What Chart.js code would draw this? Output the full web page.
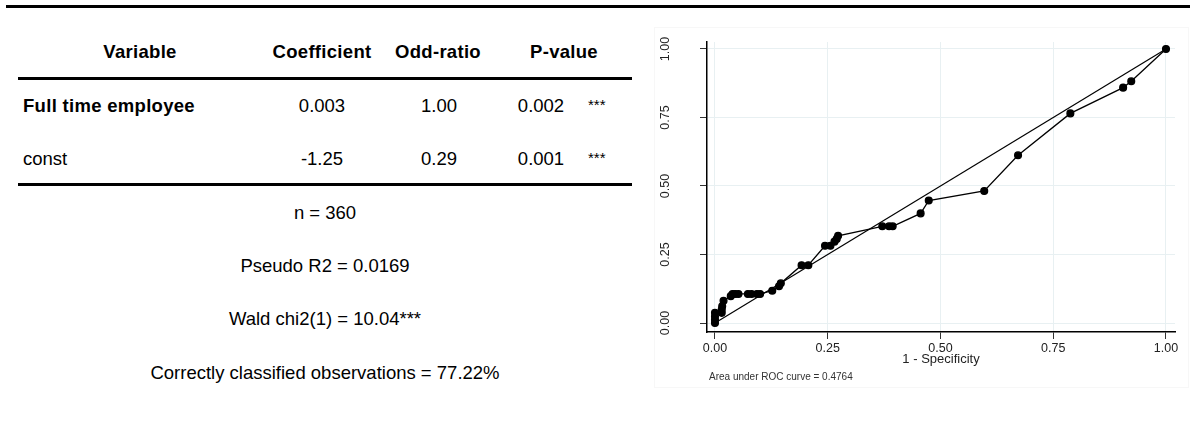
<!DOCTYPE html>
<html>
<head>
<meta charset="utf-8">
<script src="https://cdn.jsdelivr.net/npm/chart.js@4.4.1/dist/chart.umd.min.js"></script>
<style>
body{margin:0;background:#fff;width:1190px;height:431px;position:relative;overflow:hidden;font-family:"Liberation Sans",Arial,sans-serif;color:#000}
.c{position:absolute;white-space:nowrap;line-height:1;transform:translate(-50%,-50%)}
.l{position:absolute;white-space:nowrap;line-height:1;transform:translateY(-50%)}
.b{font-weight:bold;letter-spacing:0.3px}
.rule{position:absolute;background:#000}
#frame{position:absolute;left:654px;top:27px;width:535px;height:361px;border:1px solid #f7f7f7;box-sizing:border-box}
#wrap{position:absolute;left:640px;top:0;width:550px;height:431px}
#note{position:absolute;left:709px;top:377px;transform:translateY(-50%);font-size:10px;line-height:1;color:#333;white-space:nowrap}
</style>
</head>
<body>
<div class="rule" style="left:6px;top:5px;width:1184px;height:3px"></div>
<div class="rule" style="left:18px;top:77px;width:614px;height:3px"></div>
<div class="rule" style="left:18px;top:183px;width:614px;height:3px"></div>
<div id="frame"></div>
<div id="table"></div>
<div id="wrap"><canvas id="roc" width="550" height="431"></canvas></div>
<div id="note">Area under ROC curve = 0.4764</div>
<script>
// table text
const headers = ['Variable', 'Coefficient', 'Odd-ratio', 'P-value'];
const variables = ['Full time employee', 'const'];
const coefs = ['0.003', '-1.25'];
const oddRatios = ['1.00', '0.29'];
const pValues = ['0.002', '0.001'];
const stars = ['***', '***'];
const stats = ['n = 360', 'Pseudo R2 = 0.0169', 'Wald chi2(1) = 10.04***', 'Correctly classified observations = 77.22%'];

// ROC curve points (1 - specificity, sensitivity)
const fpr = [0, 0, 0, 0, 0.015, 0.015, 0.016, 0.019, 0.035, 0.039, 0.045, 0.052, 0.073, 0.081, 0.093, 0.1,
  0.127, 0.142, 0.146, 0.192, 0.207, 0.244, 0.256, 0.265, 0.27, 0.273, 0.371, 0.386, 0.394, 0.456, 0.474,
  0.597, 0.672, 0.788, 0.905, 0.923, 1];
const tpr = [0, 0.012, 0.024, 0.037, 0.037, 0.049, 0.061, 0.081, 0.098, 0.106, 0.106, 0.106, 0.106, 0.106, 0.106, 0.106,
  0.118, 0.134, 0.145, 0.211, 0.211, 0.282, 0.282, 0.297, 0.307, 0.318, 0.353, 0.353, 0.353, 0.4, 0.447,
  0.482, 0.612, 0.765, 0.859, 0.882, 1];
const refLine = [0, 1];
const tickVals = [0, 0.25, 0.5, 0.75, 1];
const xTitle = '1 - Specificity';

// build table
const tbl = document.getElementById('table');
function put(cls, text, x, y, size){
  const d = document.createElement('div');
  d.className = cls;
  d.textContent = text;
  d.style.left = x + 'px';
  d.style.top = y + 'px';
  d.style.fontSize = size + 'px';
  tbl.appendChild(d);
}
const colX = [140, 322, 438, 564];
headers.forEach((h, i) => put('c b', h, colX[i], 52, 18.5));
const rowY = [106, 159];
variables.forEach((v, i) => {
  put(i === 0 ? 'l b' : 'l', v, 23, rowY[i], 18.5);
  put('c', coefs[i], 322, rowY[i], 18.5);
  put('c', oddRatios[i], 439, rowY[i], 18.5);
  put('c', pValues[i], 541, rowY[i], 18.5);
  put('l', stars[i], 588, rowY[i] - 2, 15);
});
const statY = [213, 266, 319, 373];
stats.forEach((s, i) => put('c', s, 325, statY[i], 18.5));

// y labels drawn rotated, like Stata
const yLabels = {
  id: 'yLabels',
  afterDraw(chart){
    const ys = chart.scales.y, c = chart.ctx;
    c.save();
    c.font = '12.5px "Liberation Sans", Arial, sans-serif';
    c.fillStyle = '#222';
    c.textAlign = 'center';
    c.textBaseline = 'middle';
    tickVals.forEach(v => {
      c.save();
      c.translate(26, ys.getPixelForValue(v));
      c.rotate(-Math.PI / 2);
      c.fillText(v.toFixed(2), 0, 0);
      c.restore();
    });
    c.restore();
  }
};

const setTicks = s => { s.ticks = tickVals.map(v => ({value: v})); };

new Chart(document.getElementById('roc'), {
  type: 'scatter',
  data: {
    datasets: [
      {
        data: fpr.map((x, i) => ({x: x, y: tpr[i]})),
        showLine: true,
        borderColor: '#000',
        backgroundColor: '#000',
        borderWidth: 1.3,
        pointRadius: 3.4,
        pointHoverRadius: 3.4
      },
      {
        data: refLine.map(v => ({x: v, y: v})),
        showLine: true,
        borderColor: '#000',
        borderWidth: 1.2,
        pointRadius: 0
      }
    ]
  },
  options: {
    responsive: false,
    animation: false,
    layout: {padding: {top: 42, left: 0, right: 15, bottom: 0}},
    plugins: {legend: {display: false}, tooltip: {enabled: false}},
    scales: {
      x: {
        type: 'linear',
        min: -0.0177,
        max: 1.02,
        afterBuildTicks: setTicks,
        afterFit: s => { s.height = 99; },
        grid: {color: '#e8f0f2', tickColor: '#333', tickLength: 7},
        border: {color: '#000', width: 1.5},
        ticks: {
          padding: 2,
          color: '#222',
          font: {family: '"Liberation Sans", Arial, sans-serif', size: 12.5},
          maxRotation: 0,
          callback: v => v.toFixed(2)
        },
        title: {
          display: true,
          text: xTitle,
          color: '#222',
          font: {family: '"Liberation Sans", Arial, sans-serif', size: 13},
          padding: {top: 0, bottom: 64}
        }
      },
      y: {
        type: 'linear',
        min: -0.0328,
        max: 1.0255,
        afterBuildTicks: setTicks,
        afterFit: s => { s.width = 67; },
        grid: {color: '#e8f0f2', tickColor: '#333', tickLength: 7},
        border: {color: '#000', width: 1.5},
        ticks: {display: false}
      }
    }
  },
  plugins: [yLabels]
});
</script>
</body>
</html>
